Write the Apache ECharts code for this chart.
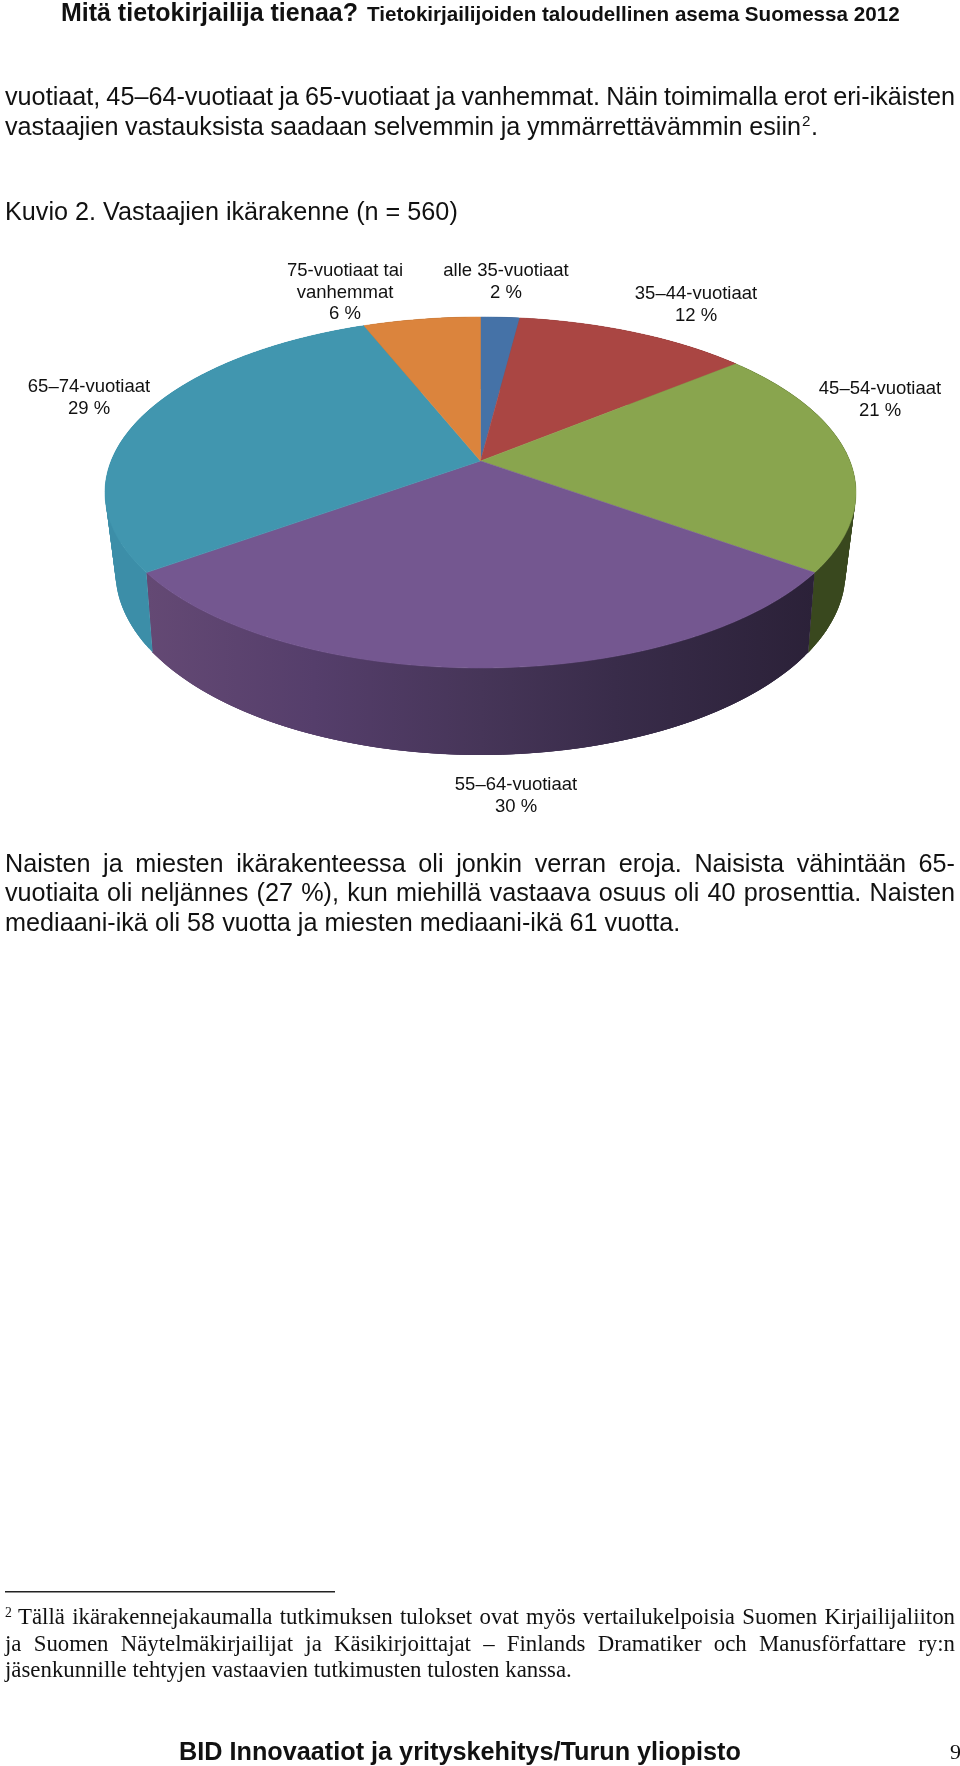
<!DOCTYPE html>
<html>
<head>
<meta charset="utf-8">
<style>html,body{margin:0;padding:0;background:#fff}#c{width:960px;height:1766px}</style>
<script src="https://cdn.jsdelivr.net/npm/echarts@6/dist/echarts.min.js"></script>
</head>
<body>
<div id="c"></div>
<script>
// ---- data ----
const categories = ['alle 35-vuotiaat','35–44-vuotiaat','45–54-vuotiaat','55–64-vuotiaat','65–74-vuotiaat','75-vuotiaat tai\nvanhemmat'];
const shares = [2,12,21,30,29,6];
// ---- styles ----
const topColors = ['#4572A7','#AA4643','#89A54E','#745790','#4196AF','#DB843D'];
const wallStops = [
  [[0,'#35557d'],[1,'#35557d']],
  [[0,'#7c3331'],[1,'#7c3331']],
  [[0,'#3c4b20'],[1,'#39481e']],
  [[0,'#644974'],[0.25,'#553e6b'],[0.5,'#463558'],[0.7,'#392c4a'],[1,'#2b2138']],
  [[0,'#3c8ea8'],[1,'#3a89a3']],
  [[0,'#a3622d'],[1,'#a3622d']]
];
const labelAnchors = [[506,271],[696,294],[880,389],[516,785],[89,387],[345,271]];
const topDisk = {cx:480.5,cy:492.5,rx:375.5,ry:175.5,t:0.1795};
const baseDisk = {cx:480.5,cy:572,rx:365,ry:183,t:0.2};

const SANS = '"Liberation Sans", Arial, sans-serif';
const SERIF = '"Liberation Serif", "Times New Roman", serif';
const INK = '#111';

// ---- geometry from shares ----
const total = shares.reduce((a,b)=>a+b,0);
const cumul = []; shares.reduce((a,v,i)=>{cumul[i]=a;return a+v;},0);
function project(theta,E){
  const s=Math.sin(theta),c=Math.cos(theta),d=1+E.t*c;
  return [E.cx+E.rx*s*Math.sqrt(1-E.t*E.t)/d, E.cy-E.ry*(c+E.t)/d];
}
function arc(i,E,value,step){
  const a=cumul[i]/total*2*Math.PI,b=(cumul[i]+value)/total*2*Math.PI;
  const n=Math.max(4,Math.ceil((b-a)/(step||0.01))),pts=[];
  for(let k=0;k<=n;k++)pts.push(project(a+(b-a)*k/n,E));
  return pts;
}

// ---- text layout helpers ----
const mctx=document.createElement('canvas').getContext('2d');
function fontStr(size,family,weight){return (weight?weight+' ':'')+size+'px '+family;}
function widthOf(t,size,family,weight){mctx.font=fontStr(size,family,weight);return mctx.measureText(t).width;}
function fit(t,target,family,weight){return 100*target/widthOf(t,100,family,weight);}
const texts=[];
function put(t,x,y,size,family,weight,align){
  texts.push({type:'text',silent:true,z:10,style:{text:t,x:x,y:y,font:fontStr(size,family,weight),fill:INK,
    align:align||'left',verticalAlign:'middle',textAlign:align||'left',textVerticalAlign:'middle'}});
}
function line(t,x0,x1,y,size,family,weight,force){
  const natural=widthOf(t,size,family,weight);
  const words=t.split(' ');
  const slack=(x1-x0-natural)/Math.max(1,words.length-1);
  if(!force&&Math.abs(slack)<0.7){put(t,x0,y,size,family,weight);return;}
  let x=x0;const sp=widthOf(' ',size,family,weight)+slack;
  words.forEach(w=>{put(w,x,y,size,family,weight);x+=widthOf(w,size,family,weight)+sp;});
}

// ---- page text ----
const headA='Mitä tietokirjailija tienaa?', headB='Tietokirjailijoiden taloudellinen asema Suomessa 2012';
put(headA,61,14,fit(headA,297,SANS,'bold'),SANS,'bold');
put(headB,367,15,fit(headB,533,SANS,'bold'),SANS,'bold');
const kuvio='Kuvio 2. Vastaajien ikärakenne (n = 560)';
const body=fit(kuvio,453,SANS);
line('vuotiaat, 45–64-vuotiaat ja 65-vuotiaat ja vanhemmat. Näin toimimalla erot eri-ikäisten',5,955,98,body,SANS);
line('vastaajien vastauksista saadaan selvemmin ja ymmärrettävämmin esiin',5,801,128,body,SANS,null,true);
put('2',802,122,body*0.6,SANS);
put('.',811,128,body,SANS);
line(kuvio,5,458,213,body,SANS);
line('Naisten ja miesten ikärakenteessa oli jonkin verran eroja. Naisista vähintään 65-',5,955,865,body,SANS);
line('vuotiaita oli neljännes (27 %), kun miehillä vastaava osuus oli 40 prosenttia. Naisten',5,955,894,body,SANS);
line('mediaani-ikä oli 58 vuotta ja miesten mediaani-ikä 61 vuotta.',5,680,924,body,SANS);
const foot3='jäsenkunnille tehtyjen vastaavien tutkimusten tulosten kanssa.';
const fs=fit(foot3,567,SERIF);
put('2',5,1613,fs*0.6,SERIF);
line('Tällä ikärakennejakaumalla tutkimuksen tulokset ovat myös vertailukelpoisia Suomen Kirjailijaliiton',18,955,1618,fs,SERIF);
line('ja Suomen Näytelmäkirjailijat ja Käsikirjoittajat – Finlands Dramatiker och Manusförfattare ry:n',5,955,1645,fs,SERIF);
line(foot3,5,572,1671,fs,SERIF);
const footer='BID Innovaatiot ja yrityskehitys/Turun yliopisto';
put(footer,179,1753,fit(footer,562,SANS,'bold'),SANS,'bold');
put('9',950,1753,22,SERIF);

// data labels
categories.forEach((c,i)=>{
  const rows=(c+'\n'+shares[i]+' %').split('\n');
  rows.forEach((r,k)=>put(r,labelAnchors[i][0],labelAnchors[i][1]+k*21.5,18.5,SANS,null,'center'));
});

texts.push({type:'rect',silent:true,shape:{x:5,y:1591,width:330,height:1.5},style:{fill:'#222'}});

const chart=echarts.init(document.getElementById('c'),null,{renderer:'canvas',width:960,height:1766});
const seriesData=shares.map((v,i)=>({name:categories[i],value:[v]}));
chart.setOption({
  animation:false,
  backgroundColor:'#fff',
  graphic:{elements:texts},
  series:[
    {type:'custom',coordinateSystem:'none',silent:true,z:1,data:seriesData,
     renderItem(p,api){
       const i=p.dataIndex,v=api.value(0);
       const up=arc(i,topDisk,v,0.02),low=arc(i,baseDisk,v,0.02);
       const g=new echarts.graphic.LinearGradient(147,0,815,0,
         wallStops[i].map(s=>({offset:s[0],color:s[1]})),true);
       const children=[];
       const last=up.length-1;
       for(let k=0;k<last;k++){
         const e=Math.min(k+3,last);
         children.push({type:'polygon',shape:{points:[up[k],up[e],low[e],low[k]]},style:{fill:g}});
       }
       return {type:'group',children};
     }},
    {type:'custom',coordinateSystem:'none',silent:true,z:2,data:seriesData,
     renderItem(p,api){
       const i=p.dataIndex,v=api.value(0);
       const apex=[topDisk.cx,topDisk.cy-topDisk.ry*topDisk.t];
       const pts=[apex].concat(arc(i,topDisk,v));
       return {type:'polygon',shape:{points:pts},style:{fill:topColors[i],stroke:topColors[i],lineWidth:0.5}};
     }}
  ]
});
</script>
</body>
</html>
